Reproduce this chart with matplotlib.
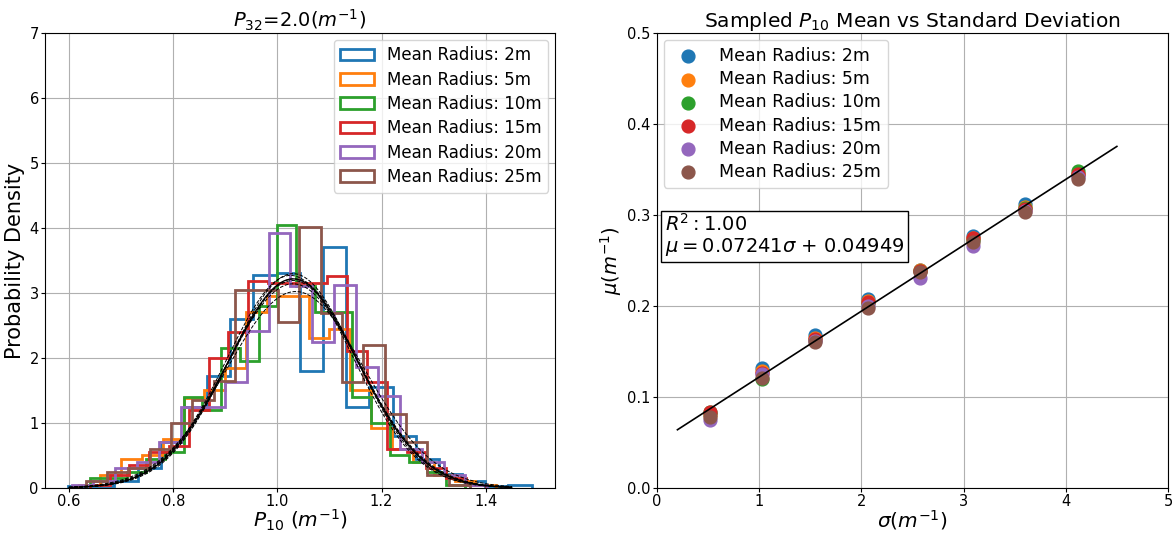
import numpy as np
import matplotlib.pyplot as plt

labels = ['Mean Radius: 2m', 'Mean Radius: 5m', 'Mean Radius: 10m',
          'Mean Radius: 15m', 'Mean Radius: 20m', 'Mean Radius: 25m']
colors = ['tab:blue', 'tab:orange', 'tab:green', 'tab:red', 'tab:purple', 'tab:brown']

# histogram ranges (lo, hi) and bin heights for each radius
hist_range = [(0.598, 1.488), (0.62, 1.42), (0.64, 1.36),
              (0.64, 1.40), (0.605, 1.403), (0.632, 1.37)]
h_2m = [0.03, 0.03, 0.1, 0.3, 0.7, 1.25, 1.72, 2.6, 3.27, 3.3,
        1.8, 3.7, 1.24, 1.55, 0.8, 0.45, 0.22, 0.1, 0.03, 0.05]
h_5m = [0.05, 0.2, 0.45, 0.5, 0.75, 1.38, 1.5, 1.85, 2.7, 2.95,
        2.95, 2.3, 2.45, 1.5, 0.92, 0.6, 0.4, 0.2, 0.1, 0.05]
h_10m = [0.15, 0.15, 0.25, 0.45, 0.55, 1.4, 1.2, 2.15, 1.95, 2.8,
         4.05, 3.1, 2.7, 2.7, 1.4, 1.0, 0.5, 0.4, 0.25, 0.05]
h_15m = [0.05, 0.2, 0.35, 0.55, 0.65, 1.2, 2.0, 2.4, 3.18, 3.15,
         3.15, 3.15, 3.26, 2.1, 1.63, 0.6, 0.55, 0.3, 0.15, 0.05]
h_20m = [0.05, 0.1, 0.3, 0.4, 0.7, 1.25, 1.25, 1.63, 2.41, 3.93,
         3.1, 2.25, 3.12, 1.86, 1.41, 0.6, 0.4, 0.2, 0.05]
h_25m = [0.1, 0.25, 0.3, 0.6, 1.0, 1.35, 1.64, 3.04, 3.04, 2.55,
         4.02, 2.69, 1.63, 2.2, 1.14, 0.7, 0.2, 0.05]
heights = [h_2m, h_5m, h_10m, h_15m, h_20m, h_25m]

# fitted normal parameters (mean, std) per radius
fit_mean = [1.030, 1.035, 1.025, 1.030, 1.030, 1.032]
fit_std = [0.121, 0.132, 0.122, 0.125, 0.127, 0.124]

# sampled P10 mean vs standard deviation
sigma = [0.515, 1.03, 1.545, 2.06, 2.575, 3.09, 3.605, 4.12]
mu_2m = [0.081, 0.132, 0.168, 0.208, 0.240, 0.277, 0.312, 0.344]
mu_5m = [0.080, 0.128, 0.165, 0.205, 0.239, 0.275, 0.309, 0.345]
mu_10m = [0.083, 0.120, 0.163, 0.203, 0.238, 0.273, 0.308, 0.348]
mu_15m = [0.083, 0.126, 0.164, 0.204, 0.238, 0.275, 0.307, 0.345]
mu_20m = [0.075, 0.125, 0.161, 0.200, 0.231, 0.266, 0.304, 0.342]
mu_25m = [0.078, 0.121, 0.160, 0.198, 0.237, 0.270, 0.303, 0.340]
mus = [mu_2m, mu_5m, mu_10m, mu_15m, mu_20m, mu_25m]
slope, intercept, r2 = 0.07241, 0.04949, 1.00

fig = plt.figure(figsize=(11.73, 5.33), dpi=100)
ax1 = fig.add_axes([0.0384, 0.0845, 0.4348, 0.8536])
ax2 = fig.add_axes([0.5601, 0.0845, 0.4356, 0.8536])

xx = np.linspace(0.6, 1.45, 300)
for i in range(6):
    lo, hi = hist_range[i]
    edges = np.linspace(lo, hi, len(heights[i]) + 1)
    centers = (edges[:-1] + edges[1:]) / 2
    ax1.hist(centers, bins=edges, weights=heights[i], histtype='step',
             color=colors[i], linewidth=2, label=labels[i])
for i in range(6):
    pdf = np.exp(-0.5 * ((xx - fit_mean[i]) / fit_std[i]) ** 2) / (fit_std[i] * np.sqrt(2 * np.pi))
    ax1.plot(xx, pdf, 'k--', linewidth=0.7)
pdf_all = np.exp(-0.5 * ((xx - 1.03) / 0.124) ** 2) / (0.124 * np.sqrt(2 * np.pi))
ax1.plot(xx, pdf_all, 'k-', linewidth=0.9)

ax1.set_xlim(0.554, 1.533)
ax1.set_ylim(0, 7)
ax1.set_xticks([0.6, 0.8, 1.0, 1.2, 1.4])
ax1.grid(True)
ax1.set_axisbelow(True)
ax1.set_title('$P_{32}$=2.0$(m^{-1})$', fontsize=14, pad=4)
ax1.set_xlabel('$P_{10}$ $(m^{-1})$', fontsize=14.5, labelpad=-1)
ax1.set_ylabel('Probability Density', fontsize=15, labelpad=3)
ax1.tick_params(labelsize=10.5, pad=1.5, length=3)
ax1.legend(loc='upper right', fontsize=12, labelspacing=0.38, borderaxespad=0.4)

for i in range(6):
    ax2.scatter(sigma, mus[i], s=85, color=colors[i], label=labels[i], zorder=3)
sx = np.array([0.2, 4.5])
ax2.plot(sx, slope * sx + intercept, 'k-', linewidth=1.2, zorder=4)
ax2.set_xlim(0, 5)
ax2.set_ylim(0, 0.5)
ax2.grid(True)
ax2.set_axisbelow(True)
ax2.set_title('Sampled $P_{10}$ Mean vs Standard Deviation', fontsize=14.5, pad=4)
ax2.set_xlabel(r'$\sigma(m^{-1})$', fontsize=14.5, labelpad=-1)
ax2.set_ylabel(r'$\mu(m^{-1})$', fontsize=14, labelpad=2)
ax2.tick_params(labelsize=10.5, pad=1.5, length=3)
ax2.legend(loc='upper left', fontsize=12.5, labelspacing=0.3, borderaxespad=0.4)
ax2.text(0.015, 0.605, '$R^2: %.2f$\n$\\mu = %.5f\\sigma$ + %.5f' % (r2, slope, intercept),
         transform=ax2.transAxes, fontsize=14, va='top', ha='left', linespacing=1.1,
         bbox=dict(facecolor='white', edgecolor='black', boxstyle='square,pad=0.2'))

fig.savefig('out.png', dpi=100)
